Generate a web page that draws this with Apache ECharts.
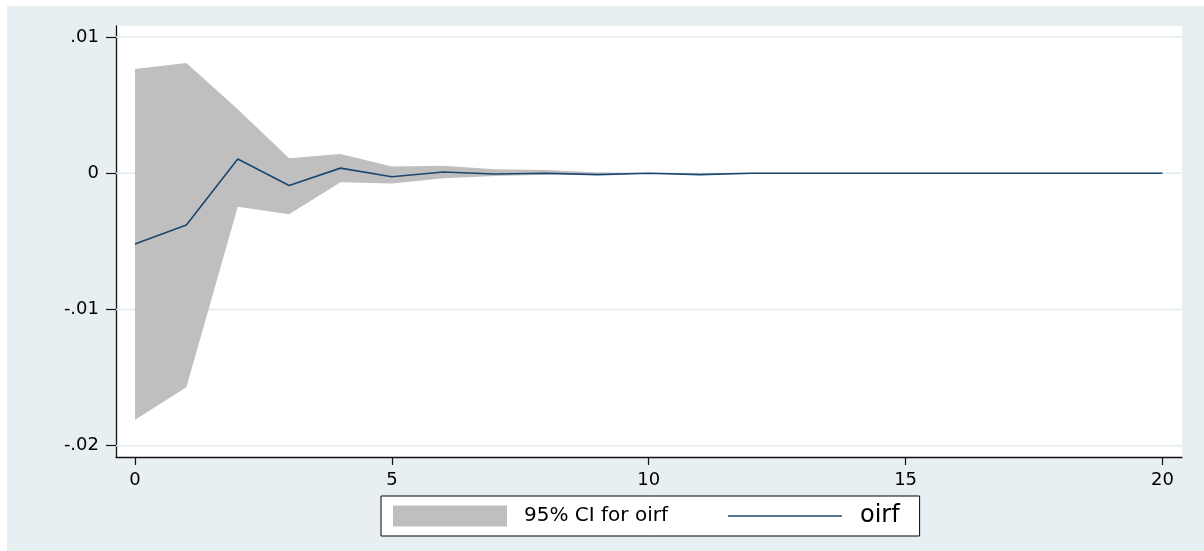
<!DOCTYPE html>
<html>
<head>
<meta charset="utf-8">
<script src="https://cdn.jsdelivr.net/npm/echarts@6/dist/echarts.min.js"></script>
<style>
  html, body { margin: 0; padding: 0; background: #ffffff; }
  #chart { width: 1204px; height: 551px; }
</style>
</head>
<body>
<div id="chart"></div>
<script>
const steps = [0, 1, 2, 3, 4, 5, 6, 7, 8, 9, 10, 11, 12, 13, 14, 15, 16, 17, 18, 19, 20];
const oirf = [-0.0052, -0.0038, 0.00105, -0.0009, 0.00038, -0.00025, 0.0001, -0.00005, 0, -0.0001, 0, -0.0001, 0, 0, 0, 0, 0, 0, 0, 0, 0];
const ciUpper = [0.00765, 0.0081, 0.0047, 0.0011, 0.00142, 0.0005, 0.00055, 0.0003, 0.00025, 0.00005, 0.00002, 0, 0, 0, 0, 0, 0, 0, 0, 0, 0];
const ciLower = [-0.0181, -0.0157, -0.00245, -0.003, -0.00066, -0.00075, -0.00037, -0.0002, -0.0001, -0.0001, -0.00002, -0.0001, 0, 0, 0, 0, 0, 0, 0, 0, 0];
const xTicks = [0, 5, 10, 15, 20];
const yTicks = [0.01, 0, -0.01, -0.02];
const yTickLabels = ['.01', '0', '-.01', '-.02'];
const ciName = '95% CI for oirf';
const lineName = 'oirf';

const X_MIN = -0.37, X_MAX = 20.38;
const Y_MIN = -0.02083, Y_MAX = 0.010815;
const FONT = 'DejaVu Sans';
const NAVY = '#1a476f';

const chart = echarts.init(document.getElementById('chart'), null, { renderer: 'canvas' });

const option = {
  backgroundColor: '#ffffff',
  animation: false,
  graphic: [{
    type: 'rect', z: -100, silent: true,
    shape: { x: 7, y: 6, width: 1197, height: 545 },
    style: { fill: '#e8eff2' }
  }],
  grid: {
    left: 116, right: 22, top: 26, bottom: 94,
    show: true, backgroundColor: '#ffffff', borderWidth: 0
  },
  xAxis: {
    type: 'value', min: X_MIN, max: X_MAX, position: 'bottom',
    axisLine: { show: true, onZero: false, lineStyle: { color: '#111', width: 1.3 } },
    axisTick: { show: true, length: 8, customValues: xTicks, lineStyle: { color: '#111', width: 1.2 } },
    axisLabel: { customValues: xTicks, margin: 14, color: '#000', fontFamily: FONT, fontSize: 18 },
    splitLine: { show: false }
  },
  yAxis: {
    type: 'value', min: Y_MIN, max: Y_MAX,
    axisLine: { show: true, onZero: false, lineStyle: { color: '#111', width: 1.3 } },
    axisTick: { show: true, length: 10, customValues: yTicks, lineStyle: { color: '#111', width: 1.2 } },
    axisLabel: {
      customValues: yTicks, margin: 17, color: '#000', fontFamily: FONT, fontSize: 18,
      formatter: function (v) {
        for (let i = 0; i < yTicks.length; i++) {
          if (Math.abs(v - yTicks[i]) < 1e-9) return yTickLabels[i];
        }
        return '';
      }
    },
    splitLine: { show: false }
  },
  legend: {
    left: 381, top: 496,
    orient: 'horizontal',
    backgroundColor: '#ffffff', borderColor: '#000', borderWidth: 1, borderRadius: 0,
    padding: [8, 20, 8, 12],
    itemWidth: 114, itemHeight: 21, itemGap: 60,
    selectedMode: false,
    data: [
      { name: ciName, icon: 'rect', itemStyle: { color: '#bfbfbf' },
        textStyle: { fontFamily: FONT, fontSize: 20, color: '#000', padding: [0, 0, 0, 12] } },
      { name: lineName,
        icon: 'path://M0,0 L0.05,0 L0,0.05 Z M0,9.8 L114,9.8 L114,11.2 L0,11.2 Z M114,21 L113.95,21 L114,20.95 Z',
        itemStyle: { color: NAVY },
        textStyle: { fontFamily: FONT, fontSize: 24, color: '#000', padding: [0, 0, 0, 13] } }
    ]
  },
  series: [
    {
      name: 'grid', type: 'custom', z: 1, silent: true,
      data: yTicks.map(function (v) { return [X_MIN, v]; }),
      encode: { x: 0, y: 1 },
      renderItem: function (params, api) {
        const v = api.value(1);
        const p1 = api.coord([X_MIN, v]);
        const p2 = api.coord([X_MAX, v]);
        return { type: 'line', shape: { x1: p1[0], y1: p1[1], x2: p2[0], y2: p2[1] },
                 style: { stroke: '#e3eaee', lineWidth: 1.5 } };
      }
    },
    {
      name: ciName, type: 'custom', z: 2, silent: true,
      itemStyle: { color: '#bfbfbf' },
      data: steps.map(function (s, i) { return [s, ciLower[i], ciUpper[i]]; }),
      encode: { x: 0, y: [1, 2] },
      renderItem: function (params, api) {
        if (params.dataIndex !== 0) return null;
        const pts = [];
        for (let i = 0; i < steps.length; i++) pts.push(api.coord([steps[i], ciUpper[i]]));
        for (let i = steps.length - 1; i >= 0; i--) pts.push(api.coord([steps[i], ciLower[i]]));
        return { type: 'polygon', shape: { points: pts }, style: { fill: '#bfbfbf' } };
      }
    },
    {
      name: lineName, type: 'line', z: 3,
      data: steps.map(function (s, i) { return [s, oirf[i]]; }),
      symbol: 'none', showSymbol: false,
      color: NAVY,
      lineStyle: { color: NAVY, width: 1.6 }
    }
  ]
};
chart.setOption(option);
</script>
</body>
</html>
